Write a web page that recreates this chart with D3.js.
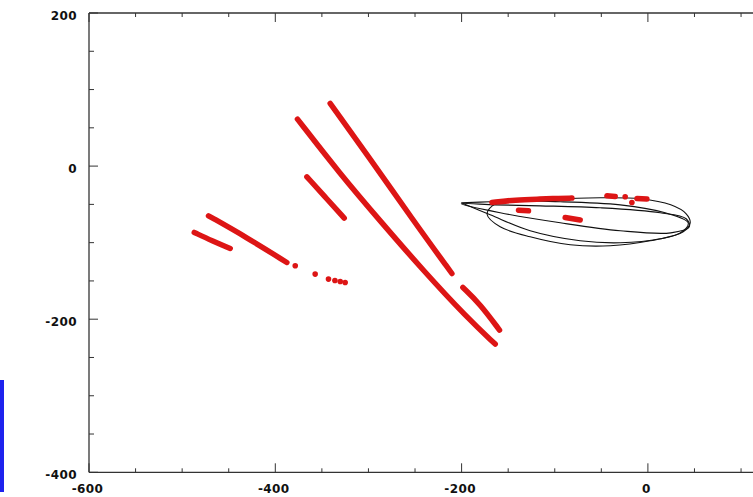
<!DOCTYPE html>
<html><head><meta charset="utf-8">
<script src="https://cdn.jsdelivr.net/npm/d3@7"></script>
<style>html,body{margin:0;padding:0;background:#fff;overflow:hidden}</style>
</head><body><svg id="c" width="753" height="497"></svg>
<script>
// ---- data ----
const xTicksMajor = [-600, -400, -200, 0];
const xTickLabels = ["-600", "-400", "-200", "0"];
const yTicksMajor = [-400, -200, 0, 200];
const yTickLabels = ["-400", "-200", "0", "200"];
const minorStep = 50;

// red tracks (vertices, x,y in data units)
const trackShortLeft = [[-487,-86.7],[-467.7,-97.6],[-448.4,-107.6]];
const trackLongLeft = [[-471.7,-64.9],[-430.5,-93.3],[-387.6,-125.9]];
const dotsLeft = [[-378.6,-130.2],[-357.2,-141.1],[-342.9,-147.6],[-336,-149.5],[-330.3,-150.7],[-325,-152]];
const trackSteepShort = [[-366.1,-14.0],[-346,-41],[-326.0,-67.9]];
const trackLongA = [[-376.2,61.4],[-330.3,-10.4],[-287.5,-71.5],[-240.9,-136.8],[-194.3,-197.8],[-163.9,-232.5]];
const trackLongB = [[-341.1,81.8],[-301.7,15.7],[-251.6,-71.5],[-210.4,-140.3]];
const trackLowerRight = [[-198.6,-158.6],[-180.0,-180.3],[-159.3,-214.2]];
const trackBand = [[-167.5,-47.6],[-142.5,-44.1],[-113.8,-43.1],[-99.5,-42.3],[-81.6,-41.8]];
const bandPieces = [
  [[-138.9,-57.7],[-128.2,-58.4]],
  [[-88.8,-67.1],[-72.7,-70.5]],
  [[-44,-38.8],[-35.1,-39.7]],
  [[-11.8,-42.3],[-1.1,-43.1]]
];
const bandDots = [[-24.4,-40.1],[-17.2,-47.6]];

// black orbit loops
const loop1 = [[-200.4,-47.9],[-169.3,-46.6],[-115.6,-44.0],[-51.2,-41.4],[-8.3,-42.7],[24.5,-50.6],[41.1,-62.3],[45.4,-74.1],[37.9,-85.8],[13.2,-95.0],[-29.7,-100.2],[-72.7,-97.6],[-126.4,-84.5],[-169.3,-63.6],[-200.4,-47.9]];
const loop2 = [[-172.5,-63.6],[-167.1,-51.9],[-153.2,-46.6],[-94.1,-46.6],[-29.7,-50.6],[18.6,-61.0],[43.3,-74.1],[34.7,-87.2],[2.5,-97.6],[-40.5,-104.1],[-83.4,-102.8],[-126.4,-92.4],[-158.6,-79.3]];
const loop3 = [[-200.4,-49.2],[-158.6,-61.0],[-94.1,-74.1],[-29.7,-84.5],[24.5,-87.2],[44.4,-79.3],[41.1,-68.8],[13.2,-61.0],[-51.2,-54.5],[-115.6,-51.9],[-163.9,-50.6]];

// ---- drawing ----
const svg = d3.select("#c");
const x = d3.scaleLinear().domain([-600, 200]).range([89, 834.2]);
const y = d3.scaleLinear().domain([-400, 200]).range([472.3, 13]);
const axisColor = "#333";
const red = "#dd1515";

// blue artifact strip at left edge
svg.append("rect").attr("x",0).attr("y",380).attr("width",4).attr("height",112).attr("fill","#1e22ee");

const g = svg.append("g");
// frame
g.append("line").attr("x1",x(-600)).attr("x2",x(200)).attr("y1",y(-400)).attr("y2",y(-400)).attr("stroke",axisColor).attr("stroke-width",1.3);
g.append("line").attr("x1",x(-600)).attr("x2",x(200)).attr("y1",y(200)).attr("y2",y(200)).attr("stroke",axisColor).attr("stroke-width",1.3);
g.append("line").attr("x1",x(-600)).attr("x2",x(-600)).attr("y1",y(-400)).attr("y2",y(200)).attr("stroke",axisColor).attr("stroke-width",1.3);

const xMinor = d3.range(-600, 201, minorStep);
const yMinor = d3.range(-400, 201, minorStep);
xMinor.forEach(v => {
  const major = v % 200 === 0;
  const L = major ? 9 : 4;
  g.append("line").attr("x1",x(v)).attr("x2",x(v)).attr("y1",y(-400)).attr("y2",y(-400)-L).attr("stroke",axisColor).attr("stroke-width",1);
  g.append("line").attr("x1",x(v)).attr("x2",x(v)).attr("y1",y(200)).attr("y2",y(200)+L).attr("stroke",axisColor).attr("stroke-width",1);
});
yMinor.forEach(v => {
  const major = yTicksMajor.includes(v);
  const L = major ? 9 : 5;
  g.append("line").attr("x1",x(-600)).attr("x2",x(-600)+L).attr("y1",y(v)).attr("y2",y(v)).attr("stroke",axisColor).attr("stroke-width",1);
});

const font = "'DejaVu Sans', sans-serif";
xTicksMajor.forEach((v,i) => {
  g.append("text").attr("x",x(v)-1.5).attr("y",493).attr("text-anchor","middle")
   .attr("font-family",font).attr("font-weight","bold").attr("font-size",12).attr("fill","#111")
   .attr("letter-spacing","0.4").text(xTickLabels[i]);
});
yTicksMajor.forEach((v,i) => {
  g.append("text").attr("x",77).attr("y",y(v)+6.5).attr("text-anchor","end")
   .attr("font-family",font).attr("font-weight","bold").attr("font-size",12).attr("fill","#111")
   .attr("letter-spacing","0.4").text(yTickLabels[i]);
});

// orbits
const lineOpen = d3.line().x(d=>x(d[0])).y(d=>y(d[1])).curve(d3.curveCatmullRom);
const lineClosed = d3.line().x(d=>x(d[0])).y(d=>y(d[1])).curve(d3.curveCatmullRomClosed);
g.append("path").attr("d",lineOpen(loop1)).attr("fill","none").attr("stroke","#111").attr("stroke-width",1.1);
g.append("path").attr("d",lineClosed(loop2)).attr("fill","none").attr("stroke","#111").attr("stroke-width",1.1);
g.append("path").attr("d",lineClosed(loop3)).attr("fill","none").attr("stroke","#111").attr("stroke-width",1.1);

// red tracks
const tline = d3.line().x(d=>x(d[0])).y(d=>y(d[1])).curve(d3.curveBasis);
[trackShortLeft, trackLongLeft, trackSteepShort, trackLongA, trackLongB, trackLowerRight, trackBand, ...bandPieces].forEach(t => {
  g.append("path").attr("d",tline(t)).attr("fill","none").attr("stroke",red).attr("stroke-width",5.5).attr("stroke-linecap","round").attr("stroke-linejoin","round");
});
g.selectAll(".dl").data([...dotsLeft, ...bandDots]).join("circle")
  .attr("cx",d=>x(d[0])).attr("cy",d=>y(d[1])).attr("r",2.8).attr("fill",red);
</script></body></html>
